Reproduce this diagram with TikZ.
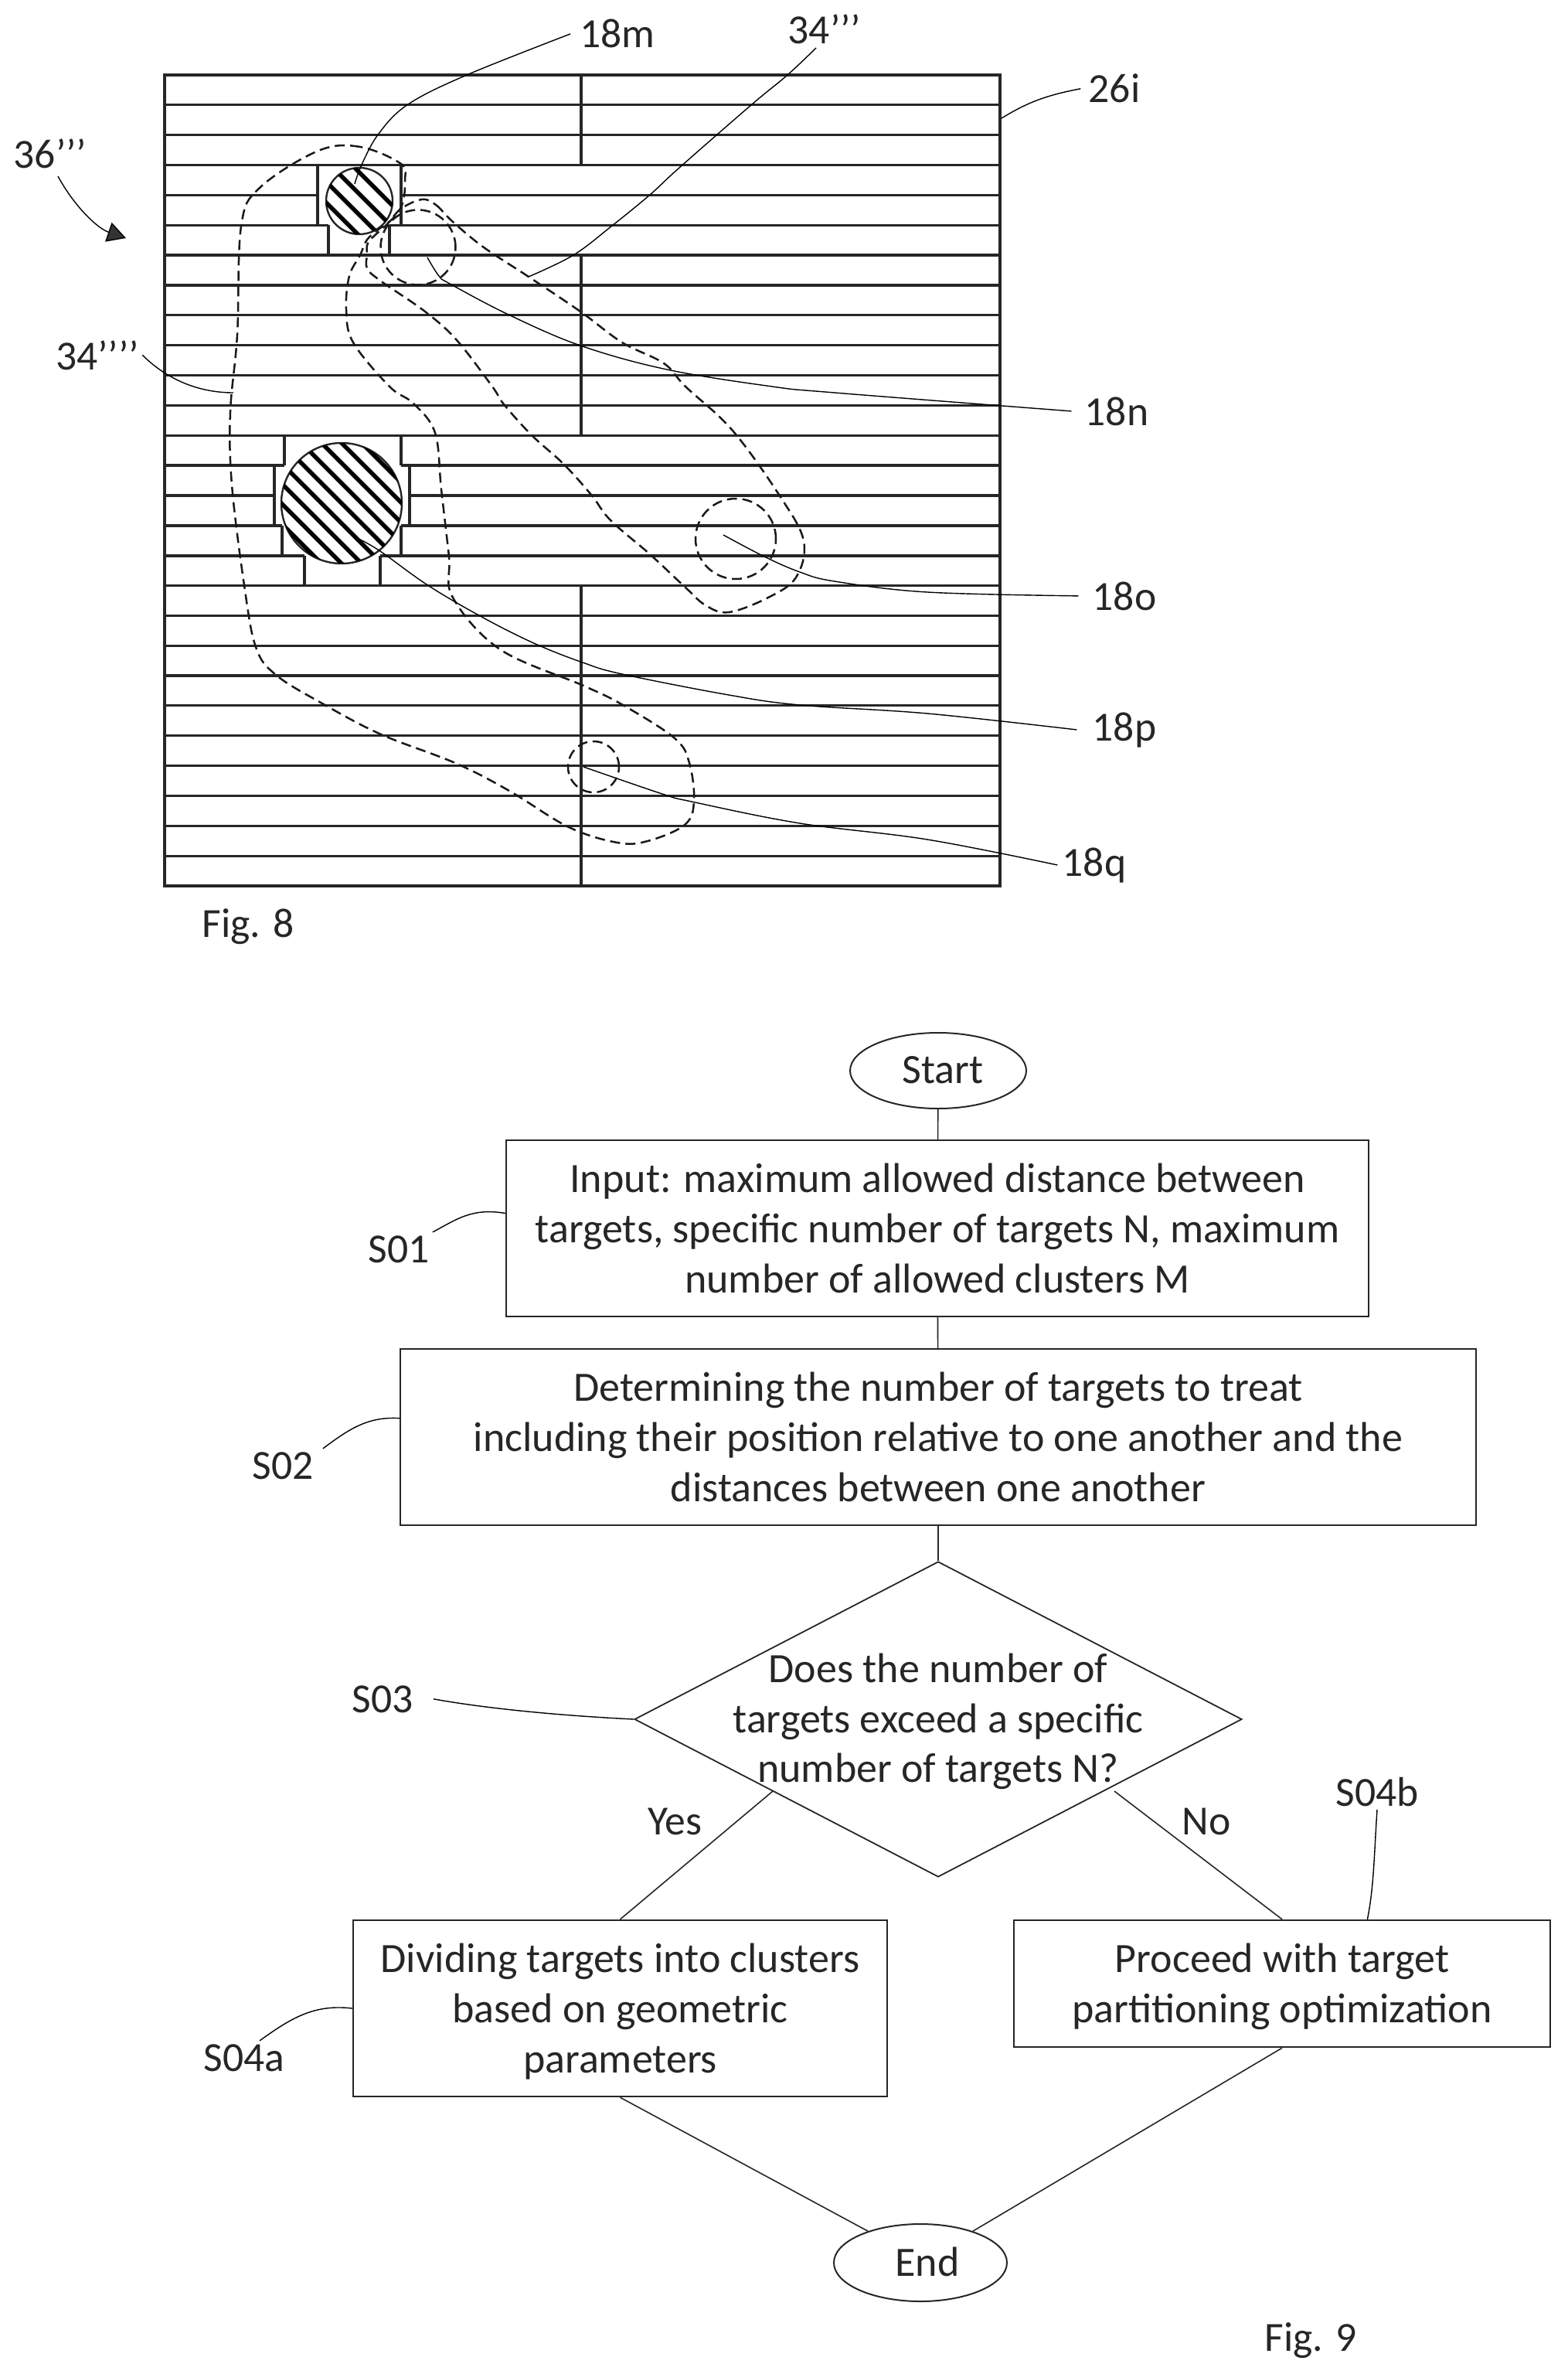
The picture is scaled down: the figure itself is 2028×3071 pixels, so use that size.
\documentclass[tikz,border=0pt]{standalone}
\usepackage{fontspec}
\setmainfont{Carlito}
\usetikzlibrary{arrows.meta,shapes.geometric}
\newcommand{\flowfont}{\fontsize{27pt}{32.3pt}\selectfont}
\tikzset{
  gridline/.style={line width=1.6pt,black!85},
  blob/.style={line width=1.25pt,black!90,dash pattern=on 6.5pt off 3.5pt},
  leader/.style={line width=0.7pt,black},
  hatchline/.style={line width=2.7pt,black},
  target/.style={circle,draw=black!85,line width=1.2pt,fill=none,inner sep=0pt},
  ghost/.style={circle,draw,blob,inner sep=0pt},
  lab/.style={anchor=base,inner sep=2pt,font=\fontsize{26.8pt}{32pt}\selectfont,text=black!85},
  flowtext/.style={align=center,font=\flowfont,text=black!85},
  flowbox/.style={draw=black!85,line width=1.2pt,rectangle,inner sep=0pt,flowtext},
  flowoval/.style={draw=black!85,line width=1pt,ellipse,inner sep=0pt},
  flowdiamond/.style={draw=black!85,line width=0.9pt,diamond,inner sep=0pt},
  flowline/.style={line width=0.8pt,black!85}
}
\begin{document}
\begin{tikzpicture}[x=0.5pt,y=-0.5pt]
\useasboundingbox (0,0) rectangle (2028,3071);
% --- Fig. 8 plate
\draw[gridline] (213,97) rectangle (1294,1146);
\foreach \i in {1,2,3,6,7,8,9,10,11,12,17,18,19,20,21,22,23,24,25,26}
  \draw[gridline] (213,{97+38.85*\i}) -- (1294,{97+38.85*\i});
\draw[gridline] (752,97) -- (752,213.5);
\draw[gridline] (752,330.1) -- (752,563.2);
\draw[gridline] (752,757.5) -- (752,1146);
% notch round the small target
\draw[gridline] (213,252.4) -- (411,252.4) (519,252.4) -- (1294,252.4);
\draw[gridline] (213,291.2) -- (425,291.2) (504,291.2) -- (1294,291.2);
\draw[gridline] (411,213.5) -- (411,291.2) (519,213.5) -- (519,291.2);
\draw[gridline] (425,291.2) -- (425,330.1) (504,291.2) -- (504,330.1);
% notch round the large target
\draw[gridline] (213,602) -- (368,602) (519,602) -- (1294,602);
\draw[gridline] (213,640.9) -- (355,640.9) (530,640.9) -- (1294,640.9);
\draw[gridline] (213,680) -- (365,680) (519,680) -- (1294,680);
\draw[gridline] (213,719) -- (394,719) (492,719) -- (1294,719);
\draw[gridline] (368,563.2) -- (368,602) (519,563.2) -- (519,602);
\draw[gridline] (355,602) -- (355,680) (530,602) -- (530,680);
\draw[gridline] (365,680) -- (365,719) (519,680) -- (519,719);
\draw[gridline] (394,719) -- (394,757.5) (492,719) -- (492,757.5);
% targets
\node[target,minimum size=43pt] (t18m) at (465,260) {};
\node[target,minimum size=78pt] (t18p) at (442,651) {};
\begin{scope}
  \clip (465,260) circle[radius=43];
  \foreach \c in {160,187,214,242}
    \draw[hatchline] ({\c+200},200) -- ({\c+320},320);
\end{scope}
\begin{scope}
  \clip (442,651) circle[radius=78];
  \foreach \c in {-313,-287,-261,-235,-209,-183,-157,-131,-105}
    \draw[hatchline] ({\c+550},550) -- ({\c+750},750);
\end{scope}
\node[ghost,minimum size=48.5pt] (t18n) at (541,320) {};
\node[ghost,minimum size=52pt] (t18o) at (952,697) {};
\node[ghost,minimum size=33pt] (t18q) at (768,992) {};
% dashed regions
\draw[blob] plot[smooth cycle,tension=0.6] coordinates {(519,212)(466,190)(412,195)(336,243)(312,293)(307,433)(298,533)(300,627)(316,757)(331,837)(357,873)(417,910)(493,950)(589,987)(659,1023)(736,1070)(799,1090)(838,1088)(886,1067)(898,1037)(892,987)(873,955)(806,912)(755,887)(647,840)(586,773)(581,720)(571,633)(563,560)(535,522)(504,500)(457,443)(448,400)(452,357)(466,330)(475,310)(492,295)(508,283)(521,263)(524,233)};
\draw[blob] plot[smooth cycle,tension=0.6] coordinates {(546,258)(564,265)(586,287)(626,320)(684,358)(751,403)(805,443)(859,470)(887,500)(948,557)(1010,643)(1040,700)(1030,747)(994,773)(943,792)(913,783)(887,760)(841,717)(790,673)(765,640)(729,600)(688,563)(652,523)(637,500)(591,440)(550,403)(492,363)(475,347)(475,330)(477,313)(501,290)(519,270)};
% labels of Fig. 8
\node[lab] (l18m) at (799,62) {18m};
\node[lab] (l34c) at (1067,57) {34’’’};
\node[lab] (l26i) at (1442,133) {26i};
\node[lab] (l36)  at (65,218) {36’’’};
\node[lab] (l34d) at (126,478) {34’’’’};
\node[lab] (l18n) at (1445,550) {18n};
\node[lab] (l18o) at (1455,789) {18o};
\node[lab] (l18p) at (1455,958) {18p};
\node[lab] (l18q) at (1416,1133) {18q};
\node[lab] (lf8)  at (321,1212) {Fig. 8};
% leaders of Fig. 8
\coordinate (e18m) at (459,238);
\coordinate (e34c) at (684,358);
\coordinate (e34d) at (302,508);
\coordinate (e18n) at (553,333);
\coordinate (e18o) at (936,692);
\coordinate (e18p) at (464,697);
\coordinate (e18q) at (755,992);
\coordinate (f26i) at (1296,153);
\coordinate (e36) at (163,308);
\coordinate (s18m) at ([xshift=-4pt]l18m.west);
\coordinate (s26i) at ([xshift=-3pt]l26i.west);
\coordinate (s18n) at ([xshift=-6.5pt]l18n.west);
\coordinate (s18o) at ([xshift=-7pt]l18o.west);
\coordinate (s18p) at ([xshift=-8pt]l18p.west);
\coordinate (s18q) at ([xshift=-1pt]l18q.west);
\draw[leader] plot[smooth,tension=0.6] coordinates {(s18m)(604,97)(528,135)(490,173)(468,213)(e18m)};
\draw[leader] plot[smooth,tension=0.6] coordinates {(1056,62)(1019,97)(973,135)(879,217)(841,252)(792,292)(742,330)(e34c)};
\draw[leader] (l34d.east) .. controls (213,488) and (253,508) .. (e34d);
\draw[leader] (s26i) .. controls (1355,123) and (1330,132) .. (f26i);
\draw[leader] plot[smooth,tension=0.6] coordinates {(s18n)(1080,508)(999,500)(863,478)(751,447)(658,407)(582,367)(568,357)(e18n)};
\draw[leader] plot[smooth,tension=0.6] coordinates {(s18o)(1200,766)(1080,752)(1035,740)(989,720)(e18o)};
\draw[leader] plot[smooth,tension=0.6] coordinates {(s18p)(1200,923)(1035,912)(943,899)(805,872)(754,857)(693,833)(627,800)(555,758)(492,713)(e18p)};
\draw[leader] plot[smooth,tension=0.6] coordinates {(s18q)(1200,1086)(1035,1065)(895,1037)(857,1027)(e18q)};
\draw[leader,-{Triangle[length=12pt,width=13pt,fill=black!80]}] (75,228) .. controls (95,265) and (125,295) .. (e36);
% --- Fig. 9 flow chart
\node[flowoval,minimum width=114pt,minimum height=49pt,
  label={[flowtext,xshift=3pt,yshift=0.5pt]center:Start}] (start) at (1214,1385) {};
\node[flowbox,minimum width=558pt,minimum height=114pt] (s01) at (1213,1589) {Input: maximum allowed distance between\\targets, specific number of targets N, maximum\\number of allowed clusters M};
\node[flowbox,minimum width=696pt,minimum height=114pt] (s02) at (1214,1859) {Determining the number of targets to treat\\including their position relative to one another and the\\distances between one another};
\node[flowdiamond,minimum width=393pt,minimum height=204pt,
  label={[flowtext,yshift=-1.5pt]center:Does the number of\\targets exceed a specific\\number of targets N?}] (s03) at (1214,2224) {};
\node[flowbox,minimum width=345.5pt,minimum height=114pt,
  label={[flowtext,yshift=-2pt]center:Dividing targets into clusters\\based on geometric\\parameters}] (s04a) at (802.5,2598) {};
\node[flowbox,minimum width=347pt,minimum height=82pt,
  label={[flowtext,yshift=-2pt]center:Proceed with target\\partitioning optimization}] (s04b) at (1659,2566) {};
\node[flowoval,minimum width=112pt,minimum height=50pt,
  label={[flowtext,xshift=4.5pt,yshift=0.5pt]center:End}] (end) at (1191,2927) {};
\coordinate (dy) at (1000,2317);
\coordinate (dn) at (1442,2317);
\draw[flowline] (start) -- (s01);
\draw[flowline] (s01) -- (s02);
\draw[flowline] (s02) -- (s03);
\draw[flowline] (dy) -- (s04a.north);
\draw[flowline] (dn) -- (s04b.north);
\draw[flowline] (s04a.south) -- (end.149);
\draw[flowline] (s04b.south) -- (end.31);
% flow chart labels
\node[lab] (ls01) at (516,1633) {S01};
\node[lab] (ls02) at (366,1913) {S02};
\node[lab] (ls03) at (495,2215) {S03};
\node[lab] (ls04a) at (316,2679) {S04a};
\node[lab] (ls04b) at (1782,2336) {S04b};
\node[lab] (lyes) at (873,2373) {Yes};
\node[lab] (lno) at (1561,2373) {No};
\node[lab] (lf9) at (1696,3041) {Fig. 9};
\coordinate (sS03) at ([xshift=11pt]ls03.east);
\coordinate (sS02) at ([xshift=4pt]ls02.north east);
\coordinate (sS04a) at ([xshift=10pt]ls04a.north);
\draw[leader] (ls01.north east) .. controls (590,1578) and (610,1562) .. (s01.178);
\draw[leader] (sS02) .. controls (450,1850) and (475,1832) .. (s02.178.5);
\draw[leader] (sS03) .. controls (640,2212) and (740,2220) .. (s03.west);
\draw[leader] (sS04a) .. controls (375,2612) and (405,2592) .. (s04a.west);
\draw[leader] (ls04b.south) .. controls (1778,2400) and (1778,2440) .. (s04b.37);
\end{tikzpicture}
\end{document}
